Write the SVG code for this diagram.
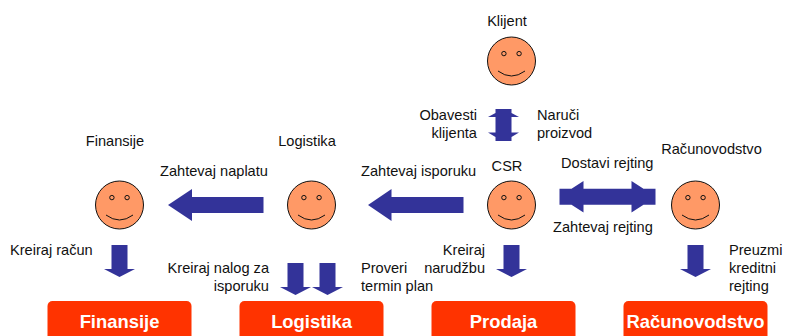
<svg xmlns="http://www.w3.org/2000/svg" width="785" height="336" viewBox="0 0 785 336">
<style>
text{font-family:"Liberation Sans",Arial,sans-serif;font-size:14.6px;fill:#111}
.e{text-anchor:end}.m{text-anchor:middle}
.b{fill:#ff3300}
.t{font-size:18.4px;font-weight:bold;fill:#fff;text-anchor:middle}
.f{fill:#ff9966;stroke:#111;stroke-width:1}
.l{fill:none;stroke:#111;stroke-width:1}
.a{fill:#333399}
</style>
<defs>
<g id="face">
<circle class="f" r="24"/>
<circle class="l" cx="-7.6" cy="-7.4" r="2.2"/>
<circle class="l" cx="7.6" cy="-7.4" r="2.2"/>
<path class="l" d="M-13.5 10Q0 20 13.500 10"/>
</g>
<polygon id="down" class="a" points="-8,0 8,0 8,24 15.500,24 0,32 -15.500,24 -8,24"/>
</defs>
<g id="connectors">
<polygon class="a" points="168,205 192,189 192,197 263.500,197 263.500,213 192,213 192,221"/>
<polygon class="a" points="368,205 391.500,189 391.500,197 463.500,197 463.500,213 391.500,213 391.500,221"/>
<polygon class="a" points="559.500,188.700 571.500,188.700 583.500,181 583.500,188.700 631.500,188.700 631.500,181 643.500,188.700 655.500,188.700 655.500,204.700 643.500,204.700 631.500,212.500 631.500,204.700 583.500,204.700 583.500,212.500 571.500,204.700 559.500,204.700"/>
<polygon class="a" points="495.500,109 511.500,109 511.500,113 519,117 511.500,117 511.500,132.500 519,132.500 511.500,137 511.500,141 495.500,141 495.500,137 488,132.500 495.500,132.500 495.500,117 488,117 495.500,113"/>
<use href="#down" x="119.500" y="245"/>
<use href="#down" x="295.500" y="263"/>
<use href="#down" x="327.500" y="263"/>
<use href="#down" x="511.500" y="245"/>
<use href="#down" x="695.500" y="245"/>
</g>
<g id="klijent"><use href="#face" x="511.500" y="61"/><text class="m" x="507" y="26">Klijent</text></g>
<g id="finansije-actor"><use href="#face" x="119.500" y="205"/><text class="m" x="115" y="146">Finansije</text></g>
<g id="logistika-actor"><use href="#face" x="311.500" y="205"/><text class="m" x="307" y="146">Logistika</text></g>
<g id="csr"><use href="#face" x="511.500" y="205"/><text class="m" x="507" y="170.500">CSR</text></g>
<g id="racunovodstvo-actor"><use href="#face" x="695.500" y="205"/><text class="m" x="711.500" y="154">Računovodstvo</text></g>
<g id="labels">
<text class="e" x="477" y="120">Obavesti</text><text class="e" x="477" y="138">klijenta</text>
<text x="537" y="120">Naruči</text><text x="537" y="138">proizvod</text>
<text x="160" y="176">Zahtevaj naplatu</text>
<text x="361" y="176">Zahtevaj isporuku</text>
<text x="561" y="168">Dostavi rejting</text>
<text x="553" y="232">Zahtevaj rejting</text>
<text x="10" y="255">Kreiraj račun</text>
<text class="e" x="269" y="273">Kreiraj nalog za</text><text class="e" x="269" y="291">isporuku</text>
<text x="361" y="273">Proveri</text><text x="361" y="291">termin plan</text>
<text class="e" x="485" y="255">Kreiraj</text><text class="e" x="485" y="273">narudžbu</text>
<text x="729" y="255">Preuzmi</text><text x="729" y="273">kreditni</text><text x="729" y="291">rejting</text>
</g>
<g id="finansije"><rect class="b" x="47.500" y="301" width="144" height="45" rx="5"/><text class="t" x="119.500" y="328">Finansije</text></g>
<g id="logistika"><rect class="b" x="239.500" y="301" width="144" height="45" rx="5"/><text class="t" x="311.500" y="328">Logistika</text></g>
<g id="prodaja"><rect class="b" x="431.500" y="301" width="144" height="45" rx="5"/><text class="t" x="503.500" y="328">Prodaja</text></g>
<g id="racunovodstvo"><rect class="b" x="623.500" y="301" width="144" height="45" rx="5"/><text class="t" x="695.500" y="328">Računovodstvo</text></g>
</svg>
